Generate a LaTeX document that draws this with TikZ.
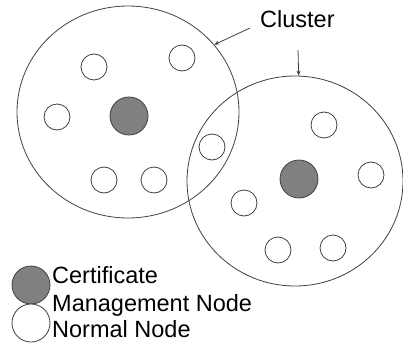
\documentclass[tikz,border=0pt]{standalone}
\usepackage{fontspec}
\setmainfont{Liberation Sans}
\usetikzlibrary{shapes.geometric,arrows.meta}
\begin{document}
\begin{tikzpicture}[x=1pt,y=-1pt,
  line/.style={draw=black!75,line width=0.8pt},
  cluster/.style={line,ellipse,inner sep=0pt},
  plain/.style={line,circle,inner sep=0pt,minimum size=26pt,fill=white},
  cert/.style={line,circle,inner sep=0pt,minimum size=38pt,fill=black!50},
  lbl/.style={font=\fontsize{23.5}{27}\selectfont,inner sep=0pt,anchor=base west},
  pointer/.style={line,-{Stealth[length=5pt,width=4pt]}}]
\useasboundingbox (0,0) rectangle (403,350);
\node[cluster,minimum width=222pt,minimum height=212pt] (c1) at (128,112) {};
\node[cluster,minimum width=216pt,minimum height=210pt] (c2) at (295,181) {};
% left cluster nodes
\node[plain] (a1) at (94,67) {};
\node[plain] (a2) at (182,58) {};
\node[plain] (a3) at (57,117) {};
\node[cert] (a0) at (129,116) {};
\node[plain] (a4) at (212,147) {};
\node[plain] (a5) at (104,180) {};
\node[plain] (a6) at (154,180) {};
% right cluster nodes
\node[plain] (b1) at (324,125) {};
\node[cert] (b0) at (299,179) {};
\node[plain] (b2) at (371,175) {};
\node[plain] (b3) at (244,203) {};
\node[plain] (b4) at (278,250) {};
\node[plain] (b5) at (333,248) {};
% label and pointers
\node[lbl] (cl) at (260,28) {Cluster};
\coordinate (p1) at (250,28);
\coordinate (p2) at (298,50);
\draw[pointer] (p1) -- (c1.38);
\draw[pointer] (p2) -- (c2.88.5);
% legend
\node[cert] (l1) at (31,285) {};
\node[plain,minimum size=38pt] (l2) at (31,323) {};
\node[lbl] (t1) at (52,283) {Certificate};
\node[lbl] (t2) at (52,311) {Management Node};
\node[lbl] (t3) at (52,337) {Normal Node};
\end{tikzpicture}
\end{document}
